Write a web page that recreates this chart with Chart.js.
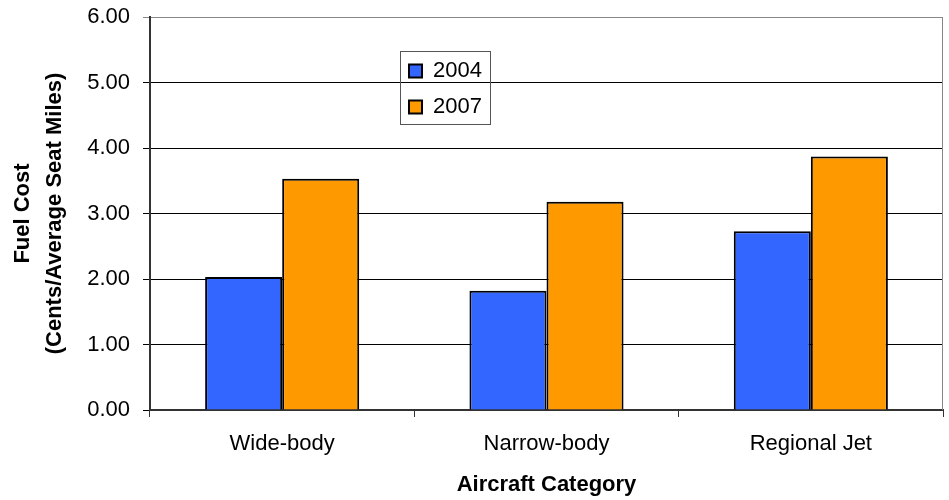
<!DOCTYPE html>
<html>
<head>
<meta charset="utf-8">
<script src="https://cdn.jsdelivr.net/npm/chart.js@4.4.1/dist/chart.umd.min.js"></script>
<style>
    html, body { margin: 0; padding: 0; background: #fff; }
    #wrap { width: 949px; height: 500px; position: relative; }
</style>
</head>
<body>
<div id="wrap"><canvas id="fuelChart"></canvas></div>
<script>
// Fuel cost per aircraft category
const categories = ['Wide-body', 'Narrow-body', 'Regional Jet'];
const cost2004 = [2.03, 1.82, 2.73];
const cost2007 = [3.53, 3.18, 3.87];
const seriesNames = ['2004', '2007'];
const yTicks = [0, 1, 2, 3, 4, 5, 6];

const FONT = "'Liberation Sans', Arial, sans-serif";

// moves the legend into the plot and draws its frame + the plot's right border
const framePlugin = {
    id: 'frame',
    afterLayout(chart) {
        const lg = chart.legend;
        if (!lg) return;
        const w = lg.width, h = lg.height;
        lg.left = 395;
        lg.top = 46;
        lg.right = lg.left + w + 20;
        lg.bottom = lg.top + h;
    },
    afterDraw(chart) {
        const ctx = chart.ctx;
        const area = chart.chartArea;
        ctx.save();
        ctx.strokeStyle = '#888';
        ctx.lineWidth = 1;
        ctx.beginPath();
        ctx.moveTo(area.right - 0.5, area.top);
        ctx.lineTo(area.right - 0.5, area.bottom);
        ctx.stroke();

        const boxes = chart.legend.legendHitBoxes;
        if (boxes && boxes.length) {
            const first = boxes[0];
            const last = boxes[boxes.length - 1];
            const x0 = Math.round(first.left) - 9;
            const y0 = Math.round(first.top) - 9;
            const x1 = Math.round(first.left) + 81;
            const y1 = Math.round(last.top + last.height) + 6;
            ctx.strokeStyle = '#555';
            ctx.strokeRect(x0 + 0.5, y0 + 0.5, x1 - x0, y1 - y0);
        }
        ctx.restore();
    }
};

const ctx = document.getElementById('fuelChart');

new Chart(ctx, {
    type: 'bar',
    data: {
        labels: categories,
        datasets: [
            {
                label: seriesNames[0],
                data: cost2004,
                backgroundColor: '#3366FF',
                borderColor: '#000',
                borderWidth: 2
            },
            {
                label: seriesNames[1],
                data: cost2007,
                backgroundColor: '#FF9900',
                borderColor: '#000',
                borderWidth: 2
            }
        ]
    },
    options: {
        responsive: true,
        maintainAspectRatio: false,
        animation: false,
        categoryPercentage: 0.583,
        barPercentage: 1.0,
        layout: { padding: { left: 0, top: 17, right: 6, bottom: 0 } },
        plugins: {
            legend: {
                position: 'chartArea',
                align: 'start',
                labels: {
                    color: '#000',
                    font: { family: FONT, size: 22 },
                    boxWidth: 13,
                    boxHeight: 13,
                    padding: 14
                }
            },
            tooltip: { enabled: false }
        },
        scales: {
            x: {
                grid: {
                    display: true,
                    drawOnChartArea: false,
                    color: '#333',
                    tickLength: 7,
                    offset: true
                },
                border: { display: true, color: '#333', width: 2 },
                ticks: {
                    color: '#000',
                    font: { family: FONT, size: 22 },
                    padding: 14,
                    maxRotation: 0
                },
                title: {
                    display: true,
                    text: 'Aircraft Category',
                    color: '#000',
                    font: { family: FONT, size: 22, weight: 'bold' },
                    padding: { top: 0, bottom: 2 }
                },
                afterFit(scale) { scale.height = 90; }
            },
            y: {
                min: 0,
                max: 6,
                afterBuildTicks(scale) {
                    scale.ticks = yTicks.map(v => ({ value: v }));
                },
                grid: {
                    color: c => (c.tick && c.tick.value === 6) ? '#888' : '#000',
                    lineWidth: 1,
                    tickLength: 7
                },
                border: { display: true, color: '#333', width: 2 },
                ticks: {
                    color: '#000',
                    font: { family: FONT, size: 22 },
                    padding: 13,
                    callback: v => Number(v).toFixed(2)
                },
                title: {
                    display: true,
                    text: ['Fuel Cost', '(Cents/Average Seat Miles)'],
                    color: '#000',
                    font: { family: FONT, size: 22, weight: 'bold', lineHeight: 1.45 },
                    padding: { top: 7, bottom: 0 }
                },
                afterFit(scale) {
                    scale.width = 150;
                    scale.paddingTop = 0;
                    scale.paddingBottom = 0;
                }
            }
        }
    },
    plugins: [framePlugin]
});
</script>
</body>
</html>
